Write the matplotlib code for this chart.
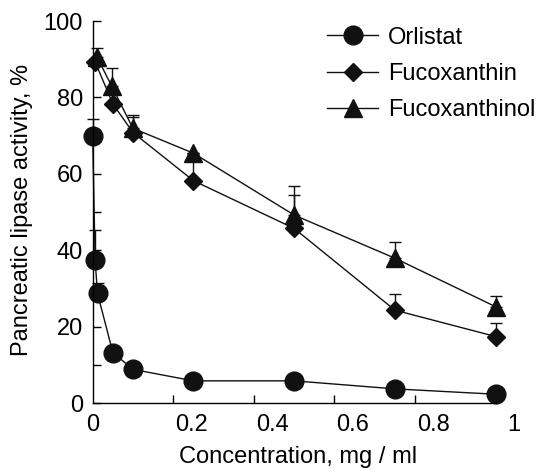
import numpy as np
import matplotlib
matplotlib.use('Agg')
import matplotlib.pyplot as plt

plt.rcParams['font.family'] = ['Liberation Sans', 'DejaVu Sans']
plt.rcParams['font.size'] = 17

# data (upper error only is visible)
orl_x = [0.0, 0.006, 0.012, 0.05, 0.1, 0.25, 0.5, 0.75, 1.0]
orl_y = [69.9, 37.4, 28.7, 13.2, 8.8, 5.8, 5.8, 3.7, 2.3]
orl_err = [4.4, 7.9, 2.7, 0, 0, 0, 0, 0, 0]

fx_x = [0.006, 0.05, 0.1, 0.25, 0.5, 0.75, 1.0]
fx_y = [89.3, 78.3, 70.8, 58.2, 45.7, 24.3, 17.4]
fx_err = [0, 0, 4.2, 7.0, 8.8, 4.2, 3.5]

fxl_x = [0.01, 0.047, 0.1, 0.25, 0.5, 0.75, 1.0]
fxl_y = [90.7, 83.0, 71.9, 65.4, 49.2, 37.9, 25.2]
fxl_err = [2.3, 4.8, 3.5, 0, 7.6, 4.3, 2.8]

xticks = [0, 0.2, 0.4, 0.6, 0.8, 1.0]
xtick_labels = ['0', '0.2', '0.4', '0.6', '0.8', '1']
# the printed labels sit right of their tick marks in the original
label_shift = 0.046

fig = plt.figure(figsize=(5.37, 4.69), dpi=100)
ax = fig.add_axes([0.1726, 0.1407, 0.788, 0.8145])

series = [
    (orl_x, orl_y, orl_err, 'o', 13.5, 'Orlistat'),
    (fx_x, fx_y, fx_err, 'D', 9.5, 'Fucoxanthin'),
    (fxl_x, fxl_y, fxl_err, '^', 13, 'Fucoxanthinol'),
]
for x, y, err, mk, ms, lab in series:
    err = np.array(err)
    ax.errorbar(x, y, yerr=[np.zeros_like(err), err], fmt='none', ecolor='#111111',
                elinewidth=1.0, capsize=4, capthick=1.0, zorder=1, clip_on=False)
    ax.plot(x, y, marker=mk, markersize=ms, color='#111111', linewidth=1.0,
            label=lab, zorder=2, clip_on=False)

ax.set_xlim(0, 1.05)
ax.set_ylim(0, 100)
ax.spines['top'].set_visible(False)
ax.spines['right'].set_visible(False)
ax.spines['bottom'].set_bounds(0, 1)
for s in ('left', 'bottom'):
    ax.spines[s].set_linewidth(1.0)

# tick marks at true positions, labels at the shifted positions
ax.set_xticks(xticks, minor=True)
ax.set_xticks([v + label_shift if v > 0 else v for v in xticks], xtick_labels)
ax.tick_params(axis='x', which='major', length=0, pad=8)
ax.tick_params(axis='x', which='minor', direction='in', length=6, width=1.0)
ax.set_yticks(np.arange(0, 101, 20))
ax.set_yticks(np.arange(0, 101, 10), minor=True)
ax.tick_params(axis='y', which='both', direction='in', length=6, width=1.0, pad=7)

ax.set_xlabel('Concentration, mg / ml')
ax.set_ylabel('Pancreatic lipase activity, %')
ax.xaxis.set_label_coords(0.486, -0.112)
ax.yaxis.set_label_coords(-0.14, 0.505)

ax.legend(loc='upper left', bbox_to_anchor=(0.554, 0.985), frameon=False,
          handlelength=2.16, handletextpad=0.42, labelspacing=0.6,
          borderaxespad=0, borderpad=0, numpoints=1)

fig.savefig('out.png', dpi=100)
